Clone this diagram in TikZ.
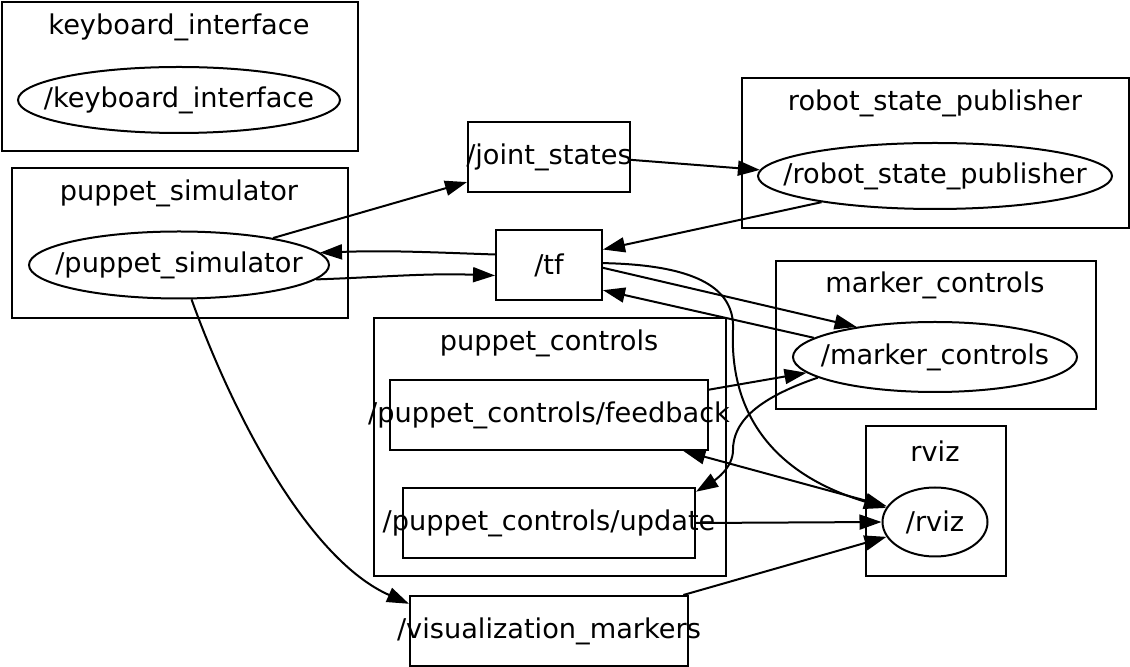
\documentclass[tikz,border=0pt]{standalone}
\usepackage{fontspec}
\setmainfont{DejaVu Sans}
\usetikzlibrary{positioning, arrows.meta, shapes.geometric}
\newcommand{\lbl}[1]{\makebox[0pt]{#1}}

\begin{document}
\begin{tikzpicture}[
    x=0.5pt, y=-0.5pt,
    every node/.style={font=\fontsize{13.6}{16}\selectfont, inner sep=0pt},
    cluster/.style={draw, line width=1pt, anchor=north west},
    topic/.style={draw, line width=1pt, minimum height=35pt},
    rosnode/.style={ellipse, draw, line width=1pt},
    link/.style={draw, line width=1pt, -{Triangle[length=11pt,width=7.5pt]}},
    every edge/.style={link}
]
\useasboundingbox (0,0) rectangle (1130,667);

\node (kbbox) [cluster, minimum width=178pt, minimum height=74.5pt] at (1,1) {};
\node (simbox) [cluster, minimum width=168pt, minimum height=75pt] at (11,167) {};
\node (rspbox) [cluster, minimum width=193.5pt, minimum height=75pt] at (741,77) {};
\node (mcbox) [cluster, minimum width=160pt, minimum height=74pt] at (775,260) {};
\node (pcbox) [cluster, minimum width=176pt, minimum height=129pt] at (373,317) {};
\node (rvizbox) [cluster, minimum width=70pt, minimum height=75pt] at (865,425) {};

\node (kblabel) at (179,27) {keyboard\_interface};
\node (simlabel) at (179,193) {puppet\_simulator};
\node (rsplabel) at (935,103) {robot\_state\_publisher};
\node (mclabel) at (935,285) {marker\_controls};
\node (pclabel) at (549,343) {puppet\_controls};
\node (rvizlabel) at (935,451) {rviz};

\node (kb) [rosnode, minimum width=161pt, minimum height=33pt] at (179,100) {\lbl{/keyboard\_interface}};
\node (sim) [rosnode, minimum width=150pt, minimum height=33.5pt] at (179,265) {\lbl{/puppet\_simulator}};
\node (rsp) [rosnode, minimum width=177pt, minimum height=33pt] at (935,176) {\lbl{/robot\_state\_publisher}};
\node (mc) [rosnode, minimum width=142pt, minimum height=35pt] at (935,357) {\lbl{/marker\_controls}};
\node (rviz) [rosnode, minimum width=52.5pt, minimum height=34.5pt] at (935,522) {\lbl{/rviz}};

\node (js) [topic, minimum width=81pt] at (549,157) {\lbl{/joint\_states}};
\node (tf) [topic, minimum width=53pt] at (549,265) {\lbl{/tf}};
\node (fb) [topic, minimum width=159pt] at (549,415) {\lbl{/puppet\_controls/feedback}};
\node (upd) [topic, minimum width=146pt] at (549,523) {\lbl{/puppet\_controls/update}};
\node (vm) [topic, minimum width=139pt] at (549,631) {\lbl{/visualization\_markers}};

\draw (sim.16) edge (js.197);
\draw (js.358) edge (rsp.178);
\draw (rsp.193) edge (tf.16);
\draw (tf.169) edge[out=178, in=2] (sim.5);
\draw (sim.354) edge[out=2, in=178] (tf.191);
\draw (tf.357) edge (mc.159);
\draw (mc.171) edge (tf.335);
\draw[link] (tf.2) .. controls (700,265) and (735,290) .. (733,330)
    .. controls (730,400) and (760,470) .. (rviz.164);
\draw (fb.9) edge (mc.187);
\draw[link] (mc.190) .. controls (752,400) and (733,425) .. (733,450)
    .. controls (733,468) and (715,480) .. (upd.12);
\draw (fb.345) edge[{Triangle[length=11pt,width=7.5pt]}-{Triangle[length=11pt,width=7.5pt]}] (rviz.162);
\draw (upd.0) edge (rviz.180);
\draw (vm.15) edge (rviz.197);
\draw[link] (sim.290) .. controls (235,420) and (310,560) .. (vm.169);
\end{tikzpicture}
\end{document}
